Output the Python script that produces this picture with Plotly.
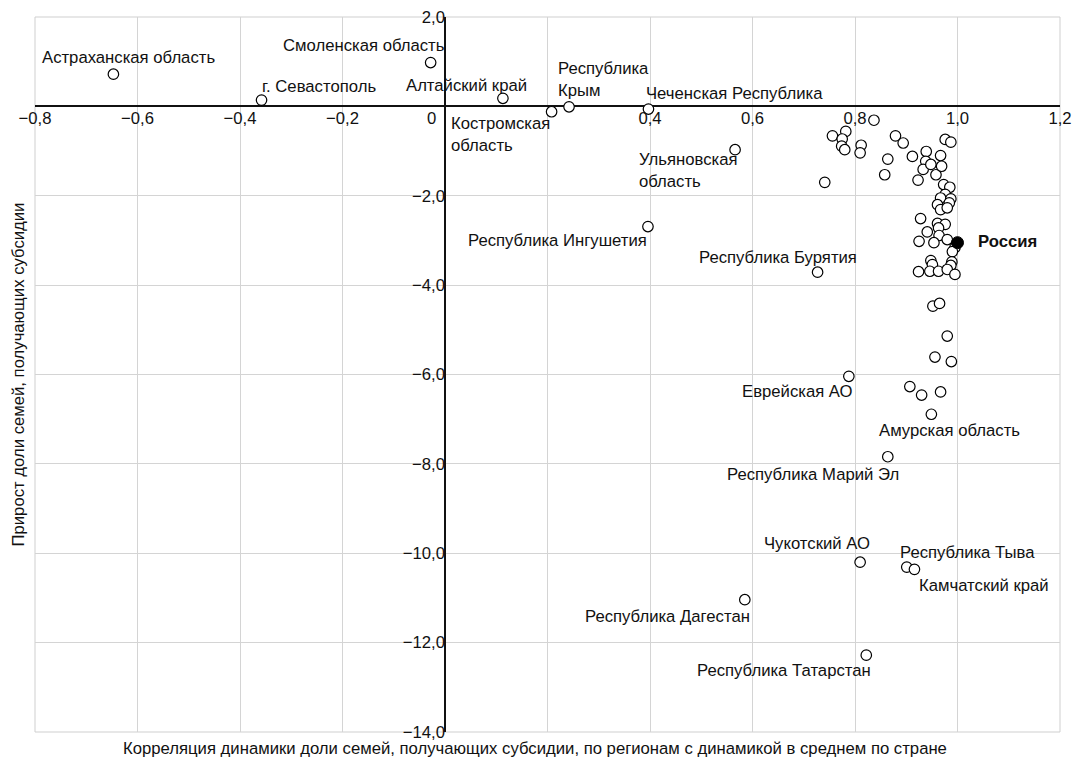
import plotly.graph_objects as go

# ---------------- data ----------------
label_names = [
    "Астраханская область", "Смоленская область", "г. Севастополь", "Алтайский край",
    "Костромская<br>область", "Республика<br>Крым", "Чеченская Республика",
    "Ульяновская<br>область", "Республика Ингушетия", "Республика Бурятия",
    "Еврейская АО", "Амурская область", "Республика Марий Эл", "Чукотский АО",
    "Республика Тыва", "Камчатский край", "Республика Дагестан", "Республика Татарстан",
]
label_x = [-0.647, -0.028, -0.358, 0.113, 0.208, 0.242, 0.397, 0.566, 0.396, 0.727,
           0.788, 0.949, 0.864, 0.810, 0.901, 0.916, 0.585, 0.822]
label_y = [0.72, 0.98, 0.14, 0.18, -0.12, -0.01, -0.06, -0.97, -2.69, -3.71,
           -6.04, -6.89, -7.84, -10.20, -10.31, -10.36, -11.04, -12.28]

other_x = [0.837, 0.756, 0.782, 0.775, 0.774, 0.780, 0.812, 0.810, 0.879, 0.894,
           0.976, 0.987, 0.864, 0.858, 0.741, 0.912, 0.939, 0.938, 0.933, 0.948,
           0.958, 0.967, 0.969, 0.923, 0.973, 0.985, 0.976, 0.967, 0.987, 0.961,
           0.984, 0.967, 0.980, 0.928, 0.961, 0.976, 0.963, 0.941, 0.964, 0.980,
           0.925, 0.954, 0.995, 0.990, 0.948, 0.951, 0.989, 0.987, 0.924, 0.946,
           0.963, 0.980, 0.995, 0.952, 0.965, 0.980, 0.956, 0.988, 0.907, 0.930,
           0.967]
other_y = [-0.31, -0.66, -0.56, -0.73, -0.89, -0.97, -0.87, -1.04, -0.66, -0.82,
           -0.74, -0.80, -1.18, -1.53, -1.70, -1.12, -1.01, -1.23, -1.41, -1.30,
           -1.53, -1.10, -1.34, -1.65, -1.75, -1.81, -1.97, -2.05, -2.07, -2.20,
           -2.16, -2.31, -2.27, -2.51, -2.62, -2.64, -2.72, -2.81, -2.89, -2.98,
           -3.02, -3.05, -3.16, -3.25, -3.45, -3.54, -3.48, -3.56, -3.70, -3.69,
           -3.69, -3.65, -3.76, -4.47, -4.41, -5.14, -5.61, -5.71, -6.27, -6.46,
           -6.39]

russia_name = "Россия"
russia_x = [1.0]
russia_y = [-3.05]

x_tick_vals = [-0.8, -0.6, -0.4, -0.2, 0.0, 0.2, 0.4, 0.6, 0.8, 1.0, 1.2]
x_tick_text = ["−0,8", "−0,6", "−0,4", "−0,2", "", "", "0,4", "0,6", "0,8", "1,0", "1,2"]
y_tick_vals = [2, 0, -2, -4, -6, -8, -10, -12, -14]
y_tick_text = ["2,0", "", "−2,0", "−4,0", "−6,0", "−8,0", "−10,0", "−12,0", "−14,0"]
origin_label = "0"

x_title = "Корреляция динамики доли семей, получающих субсидии, по регионам с динамикой в среднем по стране"
y_title = "Прирост доли семей, получающих субсидии"

# ---------------- style ----------------
FONT = "Liberation Sans, Arial, sans-serif"
TXT = "#111111"
FS = 16.7
# label placement: (xanchor, xshift, yshift)
label_pos = {
    "Астраханская область": ("center", 15, 17),
    "Смоленская область": ("center", -67, 17),
    "г. Севастополь": ("left", -1, 14),
    "Алтайский край": ("center", -36, 13),
    "Костромская<br>область": ("right", -1, -23),
    "Республика<br>Крым": ("left", -12, 27),
    "Чеченская Республика": ("left", -3, 16),
    "Ульяновская<br>область": ("right", 3, -21),
    "Республика Ингушетия": ("right", 0, -14),
    "Республика Бурятия": ("right", 40, 15),
    "Еврейская АО": ("right", 5, -15),
    "Амурская область": ("center", 18, -16),
    "Республика Марий Эл": ("right", 12, -18),
    "Чукотский АО": ("right", 11, 19),
    "Республика Тыва": ("left", -8, 15),
    "Камчатский край": ("left", 4, -16),
    "Республика Дагестан": ("right", 6, -17),
    "Республика Татарстан": ("right", 6, -15),
}

fig = go.Figure()
fig.add_trace(go.Scatter(
    x=other_x + label_x, y=other_y + label_y, mode="markers",
    marker=dict(size=10.5, color="white", line=dict(color="black", width=1.2)),
    hoverinfo="skip", showlegend=False))
fig.add_trace(go.Scatter(
    x=russia_x, y=russia_y, mode="markers",
    marker=dict(size=12, color="black", line=dict(color="black", width=1)),
    hoverinfo="skip", showlegend=False))

annotations = []
for name, xv, yv in zip(label_names, label_x, label_y):
    xa, xs, ys = label_pos[name]
    annotations.append(dict(x=xv, y=yv, xref="x", yref="y", text=name, showarrow=False,
                            xanchor=xa, yanchor="middle", xshift=xs, yshift=ys,
                            align="left", borderpad=0,
                            font=dict(family=FONT, size=FS, color=TXT)))
annotations.append(dict(x=russia_x[0], y=russia_y[0], xref="x", yref="y",
                        text="<b>" + russia_name + "</b>", showarrow=False,
                        xanchor="left", yanchor="middle", xshift=19, yshift=1, borderpad=0,
                        font=dict(family=FONT, size=FS, color=TXT)))
annotations.append(dict(x=0, y=0, xref="x", yref="y", text=origin_label, showarrow=False,
                        xanchor="right", yanchor="top", xshift=-8, yshift=-2, borderpad=0,
                        font=dict(family=FONT, size=FS, color=TXT)))
annotations.append(dict(x=0.488, y=0, xref="paper", yref="paper", text=x_title, showarrow=False,
                        xanchor="center", yanchor="top", yshift=-6, borderpad=0,
                        font=dict(family=FONT, size=FS, color=TXT)))
annotations.append(dict(x=0, y=0.5, xref="paper", yref="paper", text=y_title, showarrow=False,
                        xanchor="center", yanchor="middle", xshift=-17, textangle=-90,
                        font=dict(family=FONT, size=FS, color=TXT)))

x_range = [-0.8, 1.2]
y_range = [-14, 2]
fig.update_layout(
    width=1072, height=758,
    margin=dict(l=35, r=12, t=17, b=26),
    paper_bgcolor="white", plot_bgcolor="white",
    font=dict(family=FONT, size=FS, color=TXT),
    xaxis=dict(range=x_range, tickvals=x_tick_vals, ticktext=x_tick_text,
               showgrid=True, gridcolor="#d4d4d4", gridwidth=1,
               zeroline=True, zerolinecolor="#111111", zerolinewidth=1.6,
               showline=False, ticks="", anchor="free",
               position=(0 - y_range[0]) / (y_range[1] - y_range[0]),
               automargin=False, tickfont=dict(size=FS, color=TXT)),
    yaxis=dict(range=y_range, tickvals=y_tick_vals, ticktext=y_tick_text,
               showgrid=True, gridcolor="#d4d4d4", gridwidth=1,
               zeroline=True, zerolinecolor="#111111", zerolinewidth=1.6,
               showline=False, ticks="", anchor="free",
               position=(0 - x_range[0]) / (x_range[1] - x_range[0]),
               automargin=False, tickfont=dict(size=FS, color=TXT)),
    annotations=annotations,
    shapes=[dict(type="rect", xref="paper", yref="paper", x0=0, y0=0, x1=1, y1=1,
                 line=dict(color="#cfcfcf", width=1), layer="below")],
)
fig.write_html("out.html", config={"displayModeBar": False},
               post_script="document.body.style.margin='0px';"
               "document.body.style.overflow='hidden';")
